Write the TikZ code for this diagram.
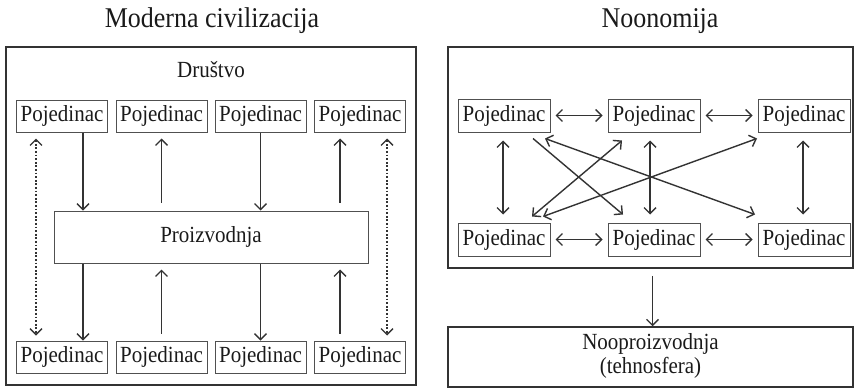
\documentclass[tikz,border=0pt]{standalone}
\usepackage{graphicx}
\usepackage{fontspec}
\setmainfont{Liberation Serif}
\usetikzlibrary{arrows.meta}
\definecolor{txtc}{HTML}{1A1A1A}
\definecolor{boxc}{HTML}{505050}
\definecolor{framec}{HTML}{333333}
\definecolor{arrc}{HTML}{333333}
\newcommand{\tx}[1]{\scalebox{1}[1.1]{#1}}
\begin{document}
\begin{tikzpicture}[x=1pt,y=-1pt,
  >={Straight Barb[length=6pt,width=12pt,line width=1.4pt]},
  every node/.style={font=\fontsize{21}{21}\selectfont, text=txtc},
  pbox/.style={draw=boxc, line width=1pt, minimum width=91pt, minimum height=32pt, inner sep=0pt},
  rbox/.style={draw=boxc, line width=1pt, minimum width=92pt, minimum height=33pt, inner sep=0pt},
  frame/.style={draw=framec, line width=1.5pt, inner sep=0pt},
  ttl/.style={font=\fontsize{26}{26}\selectfont},
  arr/.style={draw=arrc, line width=1.4pt},
  dots/.style={draw=arrc, line width=1.2pt, dash pattern=on 1.8pt off 1.8pt}
]
\useasboundingbox (0,0) rectangle (855,388);

% titles
\node[ttl] (tl) at (212,21) {\tx{Moderna civilizacija}};
\node[ttl] (tr) at (660,21) {\tx{Noonomija}};

% ---------- left ----------
\node[frame, minimum width=410pt, minimum height=338pt] (L) at (211,216) {};
\node (dr) at (211,70) {\tx{Društvo}};
\node[pbox] (t1) at (62,116) {\tx{Pojedinac}};
\node[pbox] (t2) at (161.5,116) {\tx{Pojedinac}};
\node[pbox] (t3) at (260.5,116) {\tx{Pojedinac}};
\node[pbox] (t4) at (360,116) {\tx{Pojedinac}};
\node[draw=boxc, line width=1pt, minimum width=314pt, minimum height=52pt, inner sep=0pt] (P) at (211,237) {\tx{Proizvodnja}};
\node[pbox] (b1) at (62,357) {\tx{Pojedinac}};
\node[pbox] (b2) at (161.5,357) {\tx{Pojedinac}};
\node[pbox] (b3) at (260.5,357) {\tx{Pojedinac}};
\node[pbox] (b4) at (360,357) {\tx{Pojedinac}};

\draw[arr,->] ([xshift=21pt]t1.south) -- ([xshift=21pt]t1.south |- P.north);
\draw[arr,->,shorten <=8pt,shorten >=6pt] (t2.south |- P.north) -- (t2.south);
\draw[arr,->] (t3.south) -- (t3.south |- P.north);
\draw[arr,->,shorten <=8pt,shorten >=6pt] ([xshift=-20pt]t4.south |- P.north) -- ([xshift=-20pt]t4.south);

\draw[arr,->] ([xshift=21pt]b1.north |- P.south) -- ([xshift=21pt]b1.north);
\draw[arr,->,shorten <=7pt,shorten >=6pt] (b2.north) -- (b2.north |- P.south);
\draw[arr,->] (b3.north |- P.south) -- (b3.north);
\draw[arr,->,shorten <=7pt,shorten >=6pt] ([xshift=-20pt]b4.north) -- ([xshift=-20pt]b4.north |- P.south);

\draw[dots,<->,shorten <=6pt,shorten >=5pt] ([xshift=-26pt]t1.south) -- ([xshift=-26pt]b1.north);
\draw[dots,<->,shorten <=6pt,shorten >=5pt] ([xshift=27pt]t4.south) -- ([xshift=27pt]b4.north);

% ---------- right ----------
\node[frame, minimum width=405pt, minimum height=221pt] (R) at (650.5,157.5) {};
\node[rbox] (A) at (504,115.5) {\tx{Pojedinac}};
\node[rbox] (B) at (654,115.5) {\tx{Pojedinac}};
\node[rbox] (C) at (804,115.5) {\tx{Pojedinac}};
\node[rbox] (D) at (504,239.5) {\tx{Pojedinac}};
\node[rbox] (E) at (654,239.5) {\tx{Pojedinac}};
\node[rbox] (F) at (804,239.5) {\tx{Pojedinac}};

\draw[arr,<->,shorten <=5pt,shorten >=5pt] (A) -- (B);
\draw[arr,<->,shorten <=5pt,shorten >=5pt] (B) -- (C);
\draw[arr,<->,shorten <=5pt,shorten >=5pt] (D) -- (E);
\draw[arr,<->,shorten <=5pt,shorten >=5pt] (E) -- (F);

\draw[arr,<->,shorten <=8pt,shorten >=8pt] ([xshift=-1pt]A.south) -- ([xshift=-1pt]D.north);
\draw[arr,<->,shorten <=8pt,shorten >=8pt] ([xshift=-4pt]B.south) -- ([xshift=-4pt]E.north);
\draw[arr,<->,shorten <=8pt,shorten >=8pt] ([xshift=-1pt]C.south) -- ([xshift=-1pt]F.north);

\draw[arr,->] ([shift={(29,6)}]A.south) -- ([shift={(-31,-8)}]E.north);
\draw[arr,<->] ([shift={(41,6)}]A.south) -- ([shift={(-49,-8)}]F.north);
\draw[arr,<->] ([shift={(28,-6)}]D.north) -- ([shift={(-32,8)}]B.south);
\draw[arr,<->] ([shift={(39,-6)}]D.north) -- ([shift={(-47,6)}]C.south);

\node[frame, minimum width=405pt, minimum height=60pt, align=center] (N) at (650.5,357)
  {\tx{\begin{tabular}{@{}c@{}}Nooproizvodnja\\[1pt](tehnosfera)\end{tabular}}};
\draw[arr,->,shorten <=7pt] ([xshift=2pt]R.south) -- ([xshift=2pt]N.north);
\end{tikzpicture}
\end{document}
